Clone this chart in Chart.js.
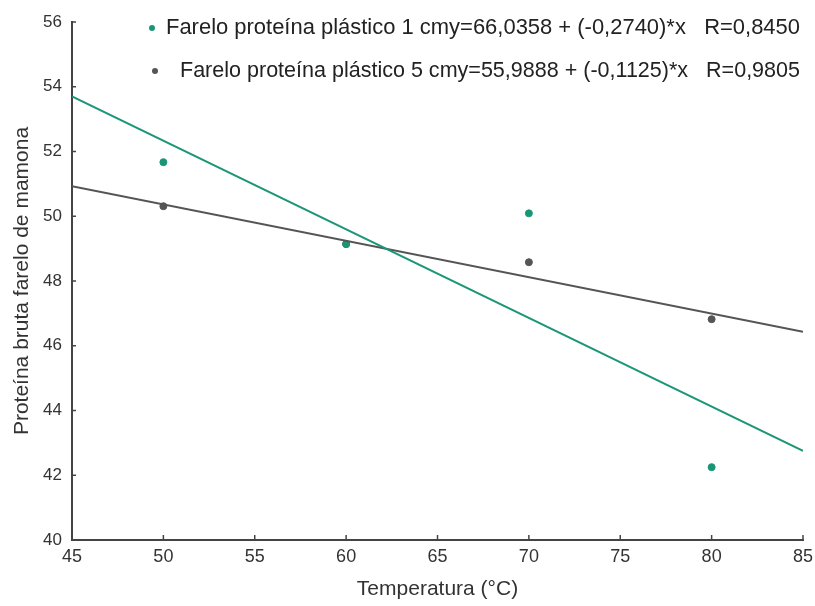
<!DOCTYPE html>
<html>
<head>
<meta charset="utf-8">
<script src="https://cdn.jsdelivr.net/npm/chart.js@4"></script>
<style>
  html, body { margin: 0; padding: 0; background: #fff; }
  #wrap { width: 815px; height: 606px; }
</style>
</head>
<body>
<div id="wrap"><canvas id="myChart" width="815" height="606"></canvas></div>
<script>
// temperaturas medidas
var temps = [50, 60, 70, 80];
// farelo plastico 1 cm
var prot1cm = [51.67, 49.14, 50.09, 42.25];
// farelo plastico 5 cm
var prot5cm = [50.31, 49.14, 48.58, 46.82];
var fitX = [45, 85];
var fit1cm = [53.7, 42.75];
var fit5cm = [50.93, 46.43];

var legendTexts = [
    'Farelo proteína plástico 1 cmy=66,0358 + (-0,2740)*x   R=0,8450',
    'Farelo proteína plástico 5 cmy=55,9888 + (-0,1125)*x   R=0,9805'
];

var green = 'rgb(26, 150, 118)';
var grey = 'rgb(85, 85, 85)';
var fontFam = '"Liberation Sans", Arial, sans-serif';

function pts(xs, ys) {
    return xs.map(function (x, i) { return {x: x, y: ys[i]}; });
}

// texto "estreito": fonte normal espremida na horizontal
function narrowText(ctx, txt, x, y, sx, align) {
    ctx.save();
    ctx.translate(x, y);
    ctx.scale(sx, 1);
    ctx.textAlign = align || 'left';
    ctx.fillText(txt, 0, 0);
    ctx.restore();
}

// legenda desenhada dentro da area do grafico + marcas para dentro
var legendPlugin = {
    id: 'legendInside',
    afterDraw: function (chart) {
        var ctx = chart.ctx;
        var xs = chart.scales.x, ys = chart.scales.y;
        ctx.save();
        // ticks para dentro
        ctx.strokeStyle = '#444';
        ctx.lineWidth = 1.5;
        xs.ticks.forEach(function (t) {
            var px = xs.getPixelForValue(t.value);
            ctx.beginPath();
            ctx.moveTo(px, xs.top);
            ctx.lineTo(px, xs.top - 5);
            ctx.stroke();
        });
        ys.ticks.forEach(function (t) {
            var py = ys.getPixelForValue(t.value);
            ctx.beginPath();
            ctx.moveTo(ys.right, py);
            ctx.lineTo(ys.right + 4, py);
            ctx.stroke();
        });

        var rows = [
            {dotX: 152, textX: 166, y: 28, right: 800, color: green},
            {dotX: 155, textX: 180, y: 71, right: 800, color: grey}
        ];
        ctx.font = '22px ' + fontFam;
        ctx.textBaseline = 'middle';
        rows.forEach(function (r, i) {
            ctx.fillStyle = r.color;
            ctx.beginPath();
            ctx.arc(r.dotX, r.y, 3, 0, Math.PI * 2);
            ctx.fill();
            var w = ctx.measureText(legendTexts[i]).width;
            ctx.fillStyle = '#222';
            narrowText(ctx, legendTexts[i], r.textX, r.y, (r.right - r.textX) / w);
        });
        ctx.restore();
    }
};

document.addEventListener("DOMContentLoaded", (e) => {
    var ctx = document.getElementById('myChart').getContext('2d');
    var chart = new Chart(ctx, {
        type: 'scatter',
        data: {
            datasets: [{
                label: 'fit 1 cm',
                type: 'line',
                data: pts(fitX, fit1cm),
                borderColor: green,
                borderWidth: 2,
                pointRadius: 0,
                fill: false
            }, {
                label: 'fit 5 cm',
                type: 'line',
                data: pts(fitX, fit5cm),
                borderColor: grey,
                borderWidth: 2,
                pointRadius: 0,
                fill: false
            }, {
                label: 'Farelo proteína plástico 1 cm',
                data: pts(temps, prot1cm),
                backgroundColor: green,
                borderColor: green,
                pointRadius: 3.5
            }, {
                label: 'Farelo proteína plástico 5 cm',
                data: pts(temps, prot5cm),
                backgroundColor: grey,
                borderColor: grey,
                pointRadius: 3.5
            }]
        },
        options: {
            responsive: false,
            animation: false,
            layout: { padding: { left: 0, right: 12, top: 22, bottom: 0 } },
            plugins: {
                legend: { display: false },
                tooltip: { enabled: false }
            },
            scales: {
                x: {
                    type: 'linear',
                    min: 45,
                    max: 85,
                    afterFit: function (s) { s.height = 66; s.paddingRight = 0; s.paddingLeft = 0; },
                    ticks: { stepSize: 5, color: '#333', font: { size: 18, family: fontFam }, padding: 6 },
                    grid: { drawOnChartArea: false, drawTicks: false, tickLength: 0, color: '#444' },
                    border: { color: '#444', width: 2 },
                    title: { display: true, text: 'Temperatura (°C)', color: '#333', font: { size: 21, family: fontFam }, padding: { top: 10 } }
                },
                y: {
                    min: 40,
                    max: 56,
                    afterFit: function (s) { s.width = 72; },
                    ticks: { stepSize: 2, color: '#333', font: { size: 17, family: fontFam }, padding: 10 },
                    grid: { drawOnChartArea: false, drawTicks: false, tickLength: 0, color: '#444' },
                    border: { color: '#444', width: 2 },
                    title: { display: true, text: 'Proteína bruta farelo de mamona', color: '#333', font: { size: 21, family: fontFam }, padding: { top: 10, bottom: 0 } }
                }
            }
        },
        plugins: [legendPlugin]
    });
});
</script>
</body>
</html>
